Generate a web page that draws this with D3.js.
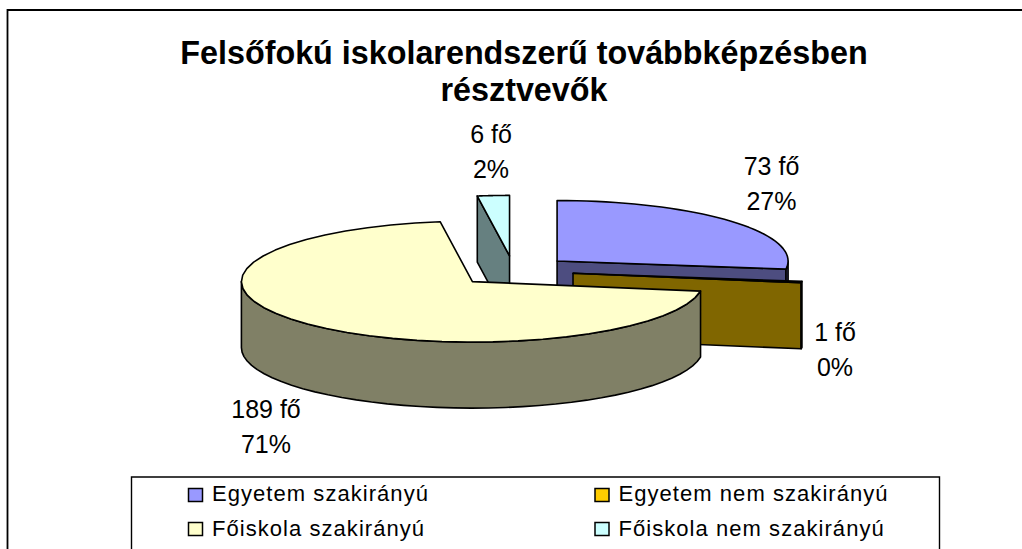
<!DOCTYPE html>
<html><head><meta charset="utf-8">
<style>html,body{margin:0;padding:0;background:#fff;overflow:hidden}svg{display:block}text{font-family:"Liberation Sans",Arial,sans-serif;fill:#000}</style>
<script src="https://cdnjs.cloudflare.com/ajax/libs/d3/7.8.5/d3.min.js"></script></head><body>
<svg id="c" width="1022" height="549"></svg>
<script>
const categories=["Egyetem szakirányú","Egyetem nem szakirányú","Főiskola szakirányú","Főiskola nem szakirányú"];
const values=[73,1,189,6];
const shares=["27%","0%","71%","2%"];
const topColors=["#9999FF","#FFCC00","#FFFFCC","#CCFFFF"];
const sideColors=["#4D4D80","#806600","#808066","#668080"];
const titleLines=["Felsőfokú iskolarendszerű továbbképzésben","résztvevők"];

const svg=d3.select("#c");
const RX=231,RY=60.5,DEPTH=66,CX=513.6,CY=271;
const explode=[0.25,0.26,0.25,0.25];
svg.append("path").attr("d","M7.5,549V10H1022").attr("fill","none").attr("stroke","#000").attr("stroke-width",1.8);

const arcs=d3.pie().sort(null).value(d=>d)(values);
const paintOrder=[3,0,1,2];
const px=(a,o)=>[o[0]+RX*Math.sin(a),o[1]-RY*Math.cos(a)];
const line=d3.line();
const sampled=(a,b)=>d3.range(0,41).map(i=>a+(b-a)*i/40);
const g=svg.append("g").attr("stroke","#000").attr("stroke-width",1.6).attr("stroke-linejoin","round");
paintOrder.forEach(i=>{
  const s=arcs[i],m=(s.startAngle+s.endAngle)/2;
  const o=[CX+explode[i]*RX*Math.sin(m),CY-explode[i]*RY*Math.cos(m)];
  const down=p=>[p[0],p[1]+DEPTH];
  const face=a=>{const r=px(a,o);g.append("path").attr("fill",sideColors[i]).attr("d",line([o,r,down(r),down(o)])+"Z");};
  if(Math.sin(s.startAngle)<0)face(s.startAngle);
  if(Math.sin(s.endAngle)>0)face(s.endAngle);
  const a0=Math.max(s.startAngle,Math.PI/2),a1=Math.min(s.endAngle,Math.PI*1.5);
  if(a1>a0){const t=sampled(a0,a1).map(a=>px(a,o));
    g.append("path").attr("fill",sideColors[i]).attr("d",line(t.concat(t.map(down).reverse()))+"Z");}
  g.append("path").attr("fill",topColors[i]).attr("d",line([o].concat(sampled(s.startAngle,s.endAngle).map(a=>px(a,o))))+"Z");
});

svg.append("g").selectAll("text").data(titleLines).join("text")
  .attr("x",524).attr("y",(d,i)=>64+i*37).attr("text-anchor","middle")
  .attr("font-size",32.3).attr("font-weight","bold").text(d=>d);

const labelPos=[[771.5,175],[835,341],[266,418],[491,143]];
const lab=svg.append("g").attr("font-size",25).attr("text-anchor","middle");
values.forEach((v,i)=>{
  lab.append("text").attr("x",labelPos[i][0]).attr("y",labelPos[i][1]).text(v+" fő");
  lab.append("text").attr("x",labelPos[i][0]).attr("y",labelPos[i][1]+34.5).text(shares[i]);
});

svg.append("path").attr("d","M131.5,549V477H939.5V549").attr("fill","none").attr("stroke","#000").attr("stroke-width",1.4);
const colX=[188,594.5],rowY=[488,522],textY=[501,536];
categories.forEach((c,i)=>{
  const x=colX[i%2],y=rowY[i>>1];
  svg.append("rect").attr("x",x+.5).attr("y",y+.5).attr("width",14).attr("height",13).attr("fill",topColors[i]).attr("stroke","#000").attr("stroke-width",1.5);
  svg.append("text").attr("x",x+24).attr("y",textY[i>>1]).attr("font-size",22).attr("letter-spacing",1.05).text(c);
});
</script></body></html>
